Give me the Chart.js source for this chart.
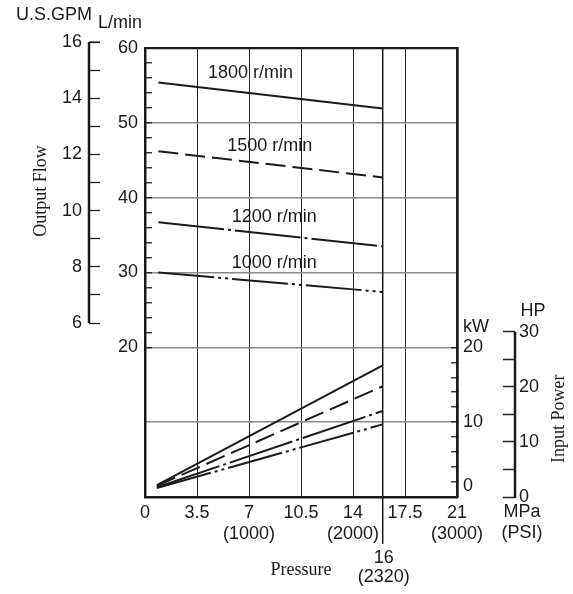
<!DOCTYPE html>
<html lang="en">
<head>
<meta charset="utf-8">
<script src="https://cdn.jsdelivr.net/npm/chart.js@4/dist/chart.umd.min.js"></script>
<style>
    html, body { margin: 0; padding: 0; background: #fff; }
    canvas { display: block; }
</style>
</head>
<body>
<canvas id="chart" width="573" height="594"></canvas>
<script>
    // output flow (L/min) and input power (kW) vs pressure (MPa)
    const speeds = ['1800 r/min', '1500 r/min', '1200 r/min', '1000 r/min'];
    const flowPressure = [0.9, 16];
    const flow1800 = [55.4, 51.9];
    const flow1500 = [46.2, 42.7];
    const flow1200 = [36.7, 33.5];
    const flow1000 = [30.0, 27.4];
    const powerPressure = [0.8, 16];
    const power1800 = [1.6, 17.6];
    const power1500 = [1.5, 14.8];
    const power1200 = [1.3, 11.5];
    const power1000 = [1.2, 9.7];
    // where the speed captions sit (MPa, L/min)
    const captionPressure = [7.1, 8.4, 8.7, 8.7];
    const captionFlow = [56.7, 46.9, 37.4, 31.3];

    const pressureTicks = [0, 3.5, 7, 10.5, 14, 17.5, 21];
    const psiTicks = ['', '', '(1000)', '', '(2000)', '', '(3000)'];
    const flowTicks = [20, 22, 24, 26, 28, 30, 32, 34, 36, 38, 40, 42, 44, 46, 48, 50, 52, 54, 56, 58, 60];
    const gpmTicks = [6, 7, 8, 9, 10, 11, 12, 13, 14, 15, 16];
    const kwTicks = [0, 2, 4, 6, 8, 10, 12, 14, 16, 18, 20];
    const hpTicks = [0, 5, 10, 15, 20, 25, 30];

    const flows = [flow1800, flow1500, flow1200, flow1000];
    const powers = [power1800, power1500, power1200, power1000];
    const dashes = [[], [20, 7], [66, 4, 3, 4], [56, 4, 3, 4, 3, 4]];

    const ink = '#1a1a1a';
    const sans = {family: '"Liberation Sans", Arial, sans-serif', size: 18, lineHeight: 1.18};
    const serif = '18px "Liberation Serif", "Times New Roman", serif';

    const datasets = [];
    speeds.forEach(function(label, i) {
        datasets.push({
            label: label,
            yAxisID: 'y',
            data: flowPressure.map(function(p, j) { return {x: p, y: flows[i][j]}; }),
            borderColor: ink, borderWidth: 2, borderDash: dashes[i], pointRadius: 0, fill: false
        });
        datasets.push({
            label: label + ' power',
            yAxisID: 'kw',
            data: powerPressure.map(function(p, j) { return {x: p, y: powers[i][j]}; }),
            borderColor: ink, borderWidth: 2, borderDash: dashes[i], pointRadius: 0, fill: false
        });
    });

    function setTicks(list) {
        return function(scale) { scale.ticks = list.map(function(v) { return {value: v}; }); };
    }

    const extras = {
        id: 'extras',
        afterDatasetsDraw(chart) {
            const ctx = chart.ctx;
            const xs = chart.scales.x, ys = chart.scales.y;
            ctx.save();
            ctx.fillStyle = ink;
            ctx.font = '18px "Liberation Sans", Arial, sans-serif';
            ctx.textAlign = 'center';
            ctx.textBaseline = 'middle';
            speeds.forEach(function(label, i) {
                ctx.fillText(label, xs.getPixelForValue(captionPressure[i]), ys.getPixelForValue(captionFlow[i]));
            });
            ctx.restore();
        },
        afterDraw(chart) {
            const ctx = chart.ctx;
            const area = chart.chartArea;
            const xs = chart.scales.x, ys = chart.scales.y, gpm = chart.scales.gpm,
                kw = chart.scales.kw, hp = chart.scales.hp;
            ctx.save();
            ctx.strokeStyle = ink;

            // GPM axis
            ctx.lineWidth = 2.5;
            ctx.beginPath();
            ctx.moveTo(gpm.right, gpm.getPixelForValue(16));
            ctx.lineTo(gpm.right, gpm.getPixelForValue(6));
            ctx.stroke();
            ctx.lineWidth = 1.3;
            ctx.beginPath();
            ctx.moveTo(gpm.right, gpm.getPixelForValue(16));
            ctx.lineTo(gpm.right + 11, gpm.getPixelForValue(16));
            ctx.stroke();

            // HP axis
            ctx.lineWidth = 2.5;
            ctx.beginPath();
            ctx.moveTo(hp.left, hp.getPixelForValue(30));
            ctx.lineTo(hp.left, hp.getPixelForValue(0) + 1);
            ctx.stroke();

            // 16 MPa rated pressure line
            const x16 = xs.getPixelForValue(16);
            ctx.lineWidth = 1.5;
            ctx.beginPath();
            ctx.moveTo(x16, area.top);
            ctx.lineTo(x16, area.bottom + 47);
            ctx.stroke();

            ctx.fillStyle = ink;
            ctx.font = '18px "Liberation Sans", Arial, sans-serif';
            ctx.textBaseline = 'middle';
            ctx.textAlign = 'right';
            ctx.fillText('U.S.GPM', gpm.right + 3, gpm.getPixelForValue(16) - 27);
            ctx.textAlign = 'left';
            ctx.fillText('L/min', ys.left + 9, area.top - 25);
            ctx.fillText('kW', kw.left + 6, kw.getPixelForValue(20) - 20);
            ctx.textAlign = 'center';
            ctx.fillText('HP', hp.left + 18, hp.getPixelForValue(30) - 21);
            ctx.fillText('MPa', area.right + 65, area.bottom + 15);
            ctx.fillText('(PSI)', area.right + 65, area.bottom + 36);
            ctx.fillText('16', x16 + 1, area.bottom + 61);
            ctx.fillText('(2320)', x16 + 1, area.bottom + 80);

            ctx.font = serif;
            ctx.fillText('Pressure', xs.getPixelForValue(10.5), area.bottom + 73);
            ctx.save();
            ctx.translate(41, ys.getPixelForValue(40.9));
            ctx.rotate(-Math.PI / 2);
            ctx.fillText('Output Flow', 0, 0);
            ctx.restore();
            ctx.save();
            ctx.translate(hp.left + 44, hp.getPixelForValue(14.2));
            ctx.rotate(-Math.PI / 2);
            ctx.fillText('Input Power', 0, 0);
            ctx.restore();

            ctx.restore();
        }
    };

    const config = {
        type: 'line',
        data: {datasets: datasets},
        options: {
            responsive: false,
            animation: false,
            devicePixelRatio: 1,
            layout: {padding: {top: 48, left: 0, right: 0, bottom: 0}},
            plugins: {legend: {display: false}, tooltip: {enabled: false}},
            scales: {
                x: {
                    type: 'linear', position: 'bottom', min: 0, max: 21,
                    afterBuildTicks: setTicks(pressureTicks),
                    afterFit: function(s) { s.height = 97; },
                    ticks: {
                        autoSkip: false, maxRotation: 0, padding: 5, color: ink, font: sans,
                        callback: function(v, i) { return psiTicks[i] ? [String(v), psiTicks[i]] : String(v); }
                    },
                    grid: {color: '#222', lineWidth: 1, drawTicks: false},
                    border: {color: ink, width: 2.5}
                },
                y: {
                    type: 'linear', position: 'left', weight: 1, min: 0, max: 60,
                    afterBuildTicks: setTicks(flowTicks),
                    afterFit: function(s) { s.width = 56; },
                    ticks: {
                        autoSkip: false, padding: 14, color: ink, font: sans,
                        callback: function(v) { return v % 10 === 0 ? String(v) : ''; }
                    },
                    grid: {
                        color: function(c) {
                            if (!c.tick) return 'rgba(0,0,0,0)';
                            if (c.tick.value === 60) return ink;
                            return c.tick.value % 10 === 0 ? '#8a8a8a' : 'rgba(0,0,0,0)';
                        },
                        lineWidth: function(c) { return c.tick && c.tick.value === 60 ? 2.2 : 1.5; },
                        tickLength: -7, tickColor: '#222', tickWidth: 1.3
                    },
                    border: {color: ink, width: 2.5}
                },
                gpm: {
                    type: 'linear', position: 'left', weight: 2, min: -0.19, max: 15.79,
                    afterBuildTicks: setTicks(gpmTicks),
                    afterFit: function(s) { s.width = 89; },
                    ticks: {
                        autoSkip: false, padding: 18, color: ink, font: sans,
                        callback: function(v) { return v % 2 === 0 ? String(v) : ''; }
                    },
                    grid: {drawOnChartArea: false, tickLength: -11, tickColor: '#222', tickWidth: 1.3},
                    border: {display: false}
                },
                kw: {
                    type: 'linear', position: 'right', weight: 1, min: 0, max: 60,
                    afterBuildTicks: setTicks(kwTicks),
                    afterFit: function(s) { s.width = 58; },
                    ticks: {
                        autoSkip: false, padding: 12, color: ink, font: sans,
                        callback: function(v) {
                            if (v === 0) return ['0', ''];
                            return v % 10 === 0 ? String(v) : '';
                        }
                    },
                    grid: {
                        color: function(c) { return c.tick && c.tick.value === 10 ? '#8a8a8a' : 'rgba(0,0,0,0)'; },
                        lineWidth: 1.5, tickLength: -6, tickColor: '#222', tickWidth: 1.3
                    },
                    border: {color: ink, width: 2.7}
                },
                hp: {
                    type: 'linear', position: 'right', weight: 2, min: 0, max: 81.6,
                    afterBuildTicks: setTicks(hpTicks),
                    afterFit: function(s) { s.width = 58; },
                    ticks: {
                        autoSkip: false, padding: 16, color: ink, font: sans,
                        callback: function(v) { return v % 10 === 0 ? String(v) : ''; }
                    },
                    grid: {drawOnChartArea: false, tickLength: -12, tickColor: '#222', tickWidth: 1.5},
                    border: {display: false}
                }
            }
        },
        plugins: [extras]
    };

    new Chart(document.getElementById('chart'), config);
</script>
</body>
</html>
